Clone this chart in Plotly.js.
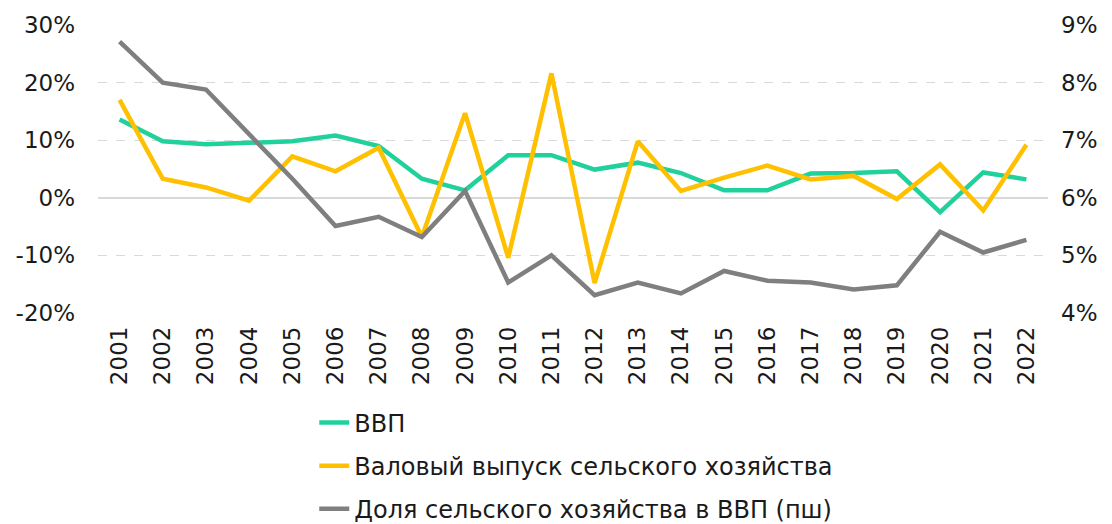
<!DOCTYPE html>
<html>
<head>
<meta charset="utf-8">
<script src="https://cdn.plot.ly/plotly-3.0.1.min.js"></script>
<style>html,body{margin:0;padding:0;background:#fff;}#chart{width:1112px;height:524px;}</style>
</head>
<body>
<div id="chart"></div>
<script>
var years = ["2001","2002","2003","2004","2005","2006","2007","2008","2009","2010","2011","2012","2013","2014","2015","2016","2017","2018","2019","2020","2021","2022"];
var gdpGrowth = [13.6, 9.8, 9.3, 9.6, 9.8, 10.8, 9.0, 3.3, 1.3, 7.4, 7.4, 4.9, 6.1, 4.3, 1.3, 1.3, 4.2, 4.3, 4.6, -2.5, 4.4, 3.2];
var agriOutput = [17.0, 3.3, 1.8, -0.5, 7.2, 4.6, 8.7, -6.8, 14.7, -10.4, 21.6, -14.8, 9.8, 1.2, 3.5, 5.6, 3.2, 3.8, -0.2, 5.8, -2.2, 9.2];
var agriShare = [8.71, 8.0, 7.88, 7.1, 6.33, 5.51, 5.67, 5.32, 6.12, 4.53, 5.0, 4.31, 4.53, 4.34, 4.73, 4.56, 4.53, 4.41, 4.48, 5.41, 5.05, 5.27];
var leftTickVals = [-20, -10, 0, 10, 20, 30];
var leftTickText = ["-20%", "-10%", "0%", "10%", "20%", "30%"];
var rightTickVals = [4, 5, 6, 7, 8, 9];
var rightTickText = ["4%", "5%", "6%", "7%", "8%", "9%"];
var names = ["ВВП", "Валовый выпуск сельского хозяйства", "Доля сельского хозяйства в ВВП (пш)"];
var colors = ["#20D19B", "#FFC000", "#7F7F7F"];

var traces = [
  {x: years, y: gdpGrowth, name: names[0], type: "scatter", mode: "lines", line: {color: colors[0], width: 4.5}, legendgroup: "a", yaxis: "y"},
  {x: years, y: agriOutput, name: names[1], type: "scatter", mode: "lines", line: {color: colors[1], width: 4.5}, legendgroup: "b", yaxis: "y"},
  {x: years, y: agriShare, name: names[2], type: "scatter", mode: "lines", line: {color: colors[2], width: 4.5}, legendgroup: "c", yaxis: "y2"}
];
var layout = {
  width: 1112, height: 524,
  margin: {l: 98, r: 64, t: 25, b: 211, autoexpand: false},
  paper_bgcolor: "#fff", plot_bgcolor: "#fff",
  font: {family: "DejaVu Sans, Verdana, sans-serif", size: 23, color: "#1a1a1a"},
  showlegend: true,
  legend: {xref: "container", yref: "container", x: 0.2826, xanchor: "left", y: 0.236, yanchor: "top", orientation: "v", tracegroupgap: 9, font: {size: 24, color: "#1a1a1a"}, bgcolor: "rgba(0,0,0,0)"},
  xaxis: {type: "category", tickangle: -90, automargin: false, showgrid: false, zeroline: false, showline: false, ticks: "", ticklabelstandoff: 8, range: [-0.5, 21.5], fixedrange: true},
  yaxis: {range: [-20, 30], tickvals: leftTickVals, ticktext: leftTickText, automargin: false, showgrid: true, gridcolor: "#d9d9d9", griddash: "dash", gridwidth: 1.3, zeroline: true, zerolinecolor: "#d9d9d9", zerolinewidth: 1.5, ticks: "", ticklabelstandoff: 22, showline: false},
  yaxis2: {range: [4, 9], tickvals: rightTickVals, ticktext: rightTickText, automargin: false, overlaying: "y", side: "right", showgrid: false, zeroline: false, ticks: "", ticklabelstandoff: 12, showline: false}
};
Plotly.newPlot("chart", traces, layout, {displayModeBar: false, staticPlot: true});
</script>
</body>
</html>
